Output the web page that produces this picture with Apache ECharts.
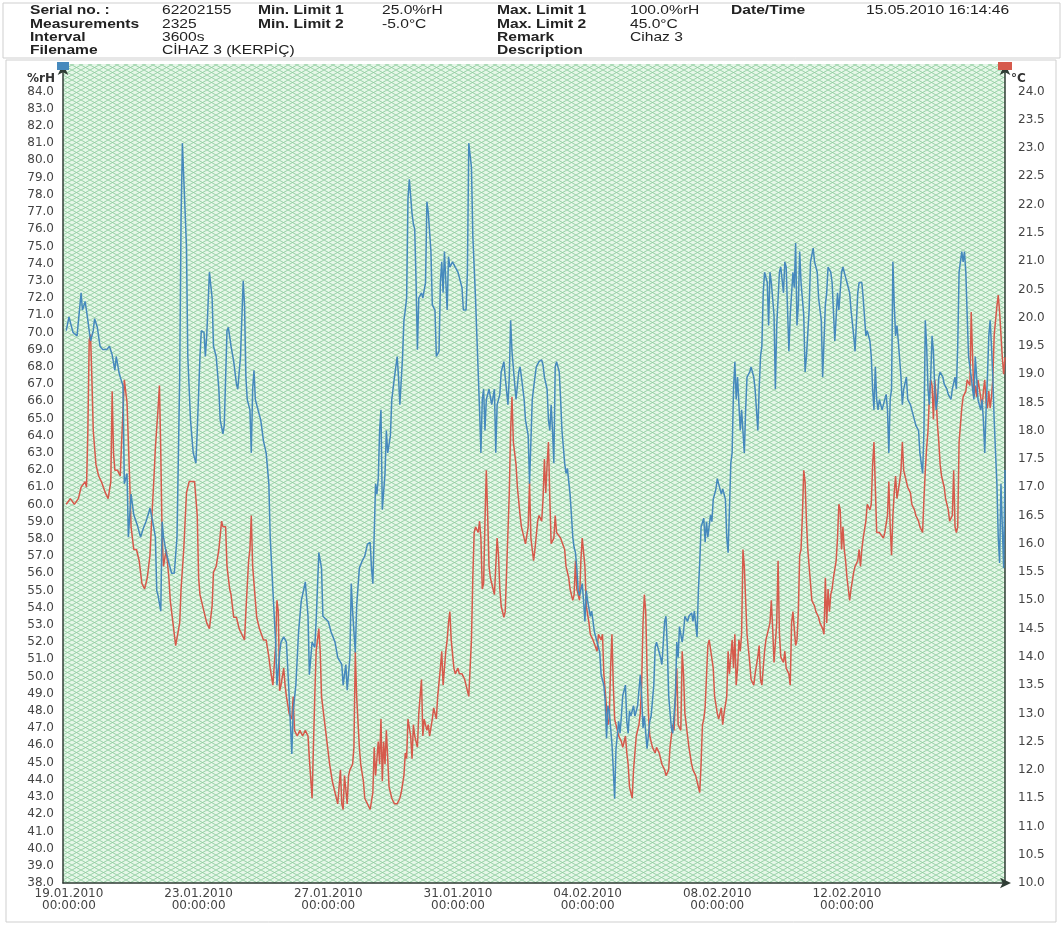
<!DOCTYPE html>
<html>
<head>
<meta charset="utf-8">
<script src="https://cdn.jsdelivr.net/npm/echarts@6/dist/echarts.min.js"></script>
<style>
html,body{margin:0;padding:0;background:#fff;}
#chart{width:1063px;height:925px;}
</style>
</head>
<body>
<div id="chart"></div>
<script>
// ---- header table text ----
const headerRows = [
  ['Serial no. :', '62202155', 'Min. Limit 1', '25.0%rH', 'Max. Limit 1', '100.0%rH', 'Date/Time', '15.05.2010 16:14:46'],
  ['Measurements', '2325', 'Min. Limit 2', '-5.0°C', 'Max. Limit 2', '45.0°C', '', ''],
  ['Interval', '3600s', '', '', 'Remark', 'Cihaz 3', '', ''],
  ['Filename', 'CİHAZ 3 (KERPİÇ)', '', '', 'Description', '', '', '']
];

// ---- time axis: hours after 19.01.2010 00:00:00 ----
const startDateUTC = Date.UTC(2010, 0, 19, 0, 0, 0);
const dateTickHours = [0, 96, 192, 288, 384, 480, 576];
const timeMin = -4.4;
const timeMax = 693;

// ---- humidity (%rH) : [hour, value] ----
const humidityData = [
[-2,70.1],[0,70.9],[3,70.0],[6,69.8],[9,72.3],[10,71.3],[12,71.8],[14,70.7],[16,69.5],[18,70.1],[19,70.8],[21,70.3],[23,69.2],[25,69.0],[28,69.0],[30,69.2],[32,68.7],[34,67.8],[35,68.6],[37,67.7],[38,67.4],[40,66.9],[41,61.2],[43,61.8],[44,58.1],[46,60.6],[48,59.4],[51,58.7],[53,58.1],[55,58.6],[57,59.0],[59,59.5],[60,59.8],[62,59.0],[64,58.1],[65,55.0],[66,54.7],[68,53.8],[69,59.0],[70,58.1],[72,57.2],[74,56.6],[76,56.0],[78,56.0],[80,58.1],[82,67.4],[83,76.6],[84,81.0],[85,80.9],[87,75.0],[88,68.6],[90,64.9],[92,63.0],[94,62.4],[95,64.3],[97,68.6],[98,70.1],[100,70.0],[101,68.6],[102,69.8],[104,73.5],[106,72.0],[107,69.2],[109,68.6],[111,66.7],[112,64.9],[114,64.1],[115,64.6],[117,70.1],[118,70.3],[120,69.2],[122,68.3],[124,67.0],[125,66.7],[127,68.6],[129,73.0],[130,71.6],[131,67.4],[132,66.1],[134,65.5],[135,63.0],[136,66.7],[137,67.8],[138,66.1],[140,65.5],[142,64.9],[144,63.7],[146,63.0],[148,61.2],[149,58.1],[151,55.0],[153,52.0],[154,49.5],[156,51.4],[157,52.0],[159,52.3],[161,52.0],[163,48.9],[165,45.5],[166,48.0],[168,49.5],
[170,52.6],[172,54.4],[175,55.5],[177,53.5],[178,50.1],[180,52.0],[182,51.7],[183,53.2],[185,57.2],[187,56.3],[188,53.5],[189,53.4],[192,53.2],[194,52.6],[197,52.0],[199,51.1],[202,50.7],[203,49.5],[205,50.7],[206,49.2],[208,51.1],[209,55.4],[210,53.8],[212,51.4],[213,54.1],[215,56.3],[217,56.7],[219,57.0],[221,57.7],[223,57.8],[224,56.3],[225,55.4],[227,61.2],[228,60.6],[229,61.5],[230,64.3],[231,65.5],[232,59.7],[234,61.8],[235,64.3],[236,63.0],[238,64.0],[239,66.1],[241,67.4],[243,68.6],[244,67.4],[245,65.8],[247,68.6],[248,70.7],[249,71.3],[250,72.0],[251,77.8],[252,78.9],[254,76.9],[255,76.3],[256,76.0],[257,72.9],[258,69.0],[259,72.0],[261,72.3],[262,72.0],[264,72.9],[265,77.6],[266,77.0],[268,74.7],[269,71.6],[271,71.3],[272,68.6],[274,68.9],[275,72.9],[276,74.1],[277,72.3],[278,74.7],[280,71.3],[281,74.4],[282,73.8],[284,74.1],[286,73.8],[288,73.5],[291,72.6],[292,71.3],[294,71.3],[295,73.5],[296,81.0],[298,79.6],[299,75.6],[301,72.0],[302,69.8],[304,65.5],[305,63.0],[306,66.1],[307,66.7],[308,64.3],[309,66.1],[311,66.7],[312,66.6],[313,65.8],[315,66.7],[316,63.0],[317,65.8],[319,66.4],[320,67.7],[322,68.3],[323,67.4],[325,65.8],[326,67.4],[327,70.7],[328,68.9],[330,67.0],[331,66.1],[333,67.7],[334,68.0],[335,67.4],[337,66.1],[338,64.9],[340,64.0],[341,61.2],
[343,66.1],[345,67.4],[346,68.0],[348,68.3],[350,68.4],[351,68.1],[352,67.4],[354,66.7],[355,64.9],[356,64.3],[357,65.8],[358,64.3],[359,62.4],[360,68.0],[361,68.3],[363,67.7],[364,66.1],[365,64.3],[367,62.4],[368,61.8],[369,62.1],[371,60.6],[372,59.4],[373,58.1],[374,57.5],[375,57.2],[376,56.3],[377,55.0],[378,54.7],[380,55.4],[381,54.4],[382,53.2],[383,55.0],[384,54.4],[386,53.5],[387,53.8],[388,53.2],[389,52.6],[391,52.0],[393,51.4],[394,50.1],[396,49.5],[397,48.6],[398,46.4],[399,48.3],[400,48.0],[402,46.1],[403,44.6],[404,42.9],[405,45.8],[407,47.4],[408,46.7],[409,47.7],[410,48.9],[412,49.5],[413,47.4],[414,46.7],[415,48.0],[416,47.7],[418,48.3],[419,47.7],[420,48.0],[421,48.3],[423,50.1],[424,48.9],[425,47.0],[426,47.7],[428,45.8],[430,47.4],[431,47.7],[433,49.5],[434,51.7],[435,52.0],[437,51.4],[438,51.1],[439,50.7],[441,53.2],[442,53.5],[443,51.7],[444,48.9],[446,47.0],[447,46.7],[449,48.9],[450,52.0],[451,51.1],[452,52.9],[454,52.0],[455,52.6],[456,53.5],[458,53.2],[459,53.5],[461,53.7],[462,53.2],[463,53.8],[465,52.3],[466,55.0],[467,56.6],[468,58.7],[470,59.2],[471,57.8],[472,59.0],[473,58.1],[475,59.4],[476,59.0],[477,60.3],[479,60.9],[480,61.5],[481,61.2],[483,60.6],[484,60.9],[486,60.3],[487,58.1],[488,57.2],[489,59.7],[490,62.4],[491,63.0],[492,66.7],[493,68.3],[494,66.1],[495,67.4],[497,64.3],[498,65.5],[500,63.0],[501,65.5],[502,67.4],[504,67.7],[505,68.0],[507,67.4],[508,66.7],[510,64.3],[511,66.7],[512,68.6],[513,69.2],[514,72.3],[515,73.5],[517,72.9],[518,70.4],
[519,73.5],[520,72.9],[522,71.0],[523,66.7],[524,70.4],[526,73.5],[527,73.8],[529,72.3],[530,74.1],[531,73.8],[533,68.9],[534,71.0],[536,73.5],[537,72.6],[538,75.2],[539,70.4],[540,71.6],[541,74.7],[542,72.9],[544,71.0],[545,67.7],[546,68.6],[548,71.3],[549,74.1],[551,74.9],[552,74.1],[554,73.5],[555,72.0],[557,70.7],[558,67.4],[560,71.6],[561,72.3],[562,73.8],[564,73.5],[565,72.9],[566,72.9],[567,69.5],[569,72.3],[570,71.3],[572,73.5],[573,73.8],[575,73.2],[576,72.9],[578,72.3],[579,71.3],[581,69.8],[582,68.9],[584,72.3],[585,72.9],[587,72.9],[588,72.0],[590,69.8],[591,70.1],[593,69.5],[594,68.6],[595,66.7],[596,65.5],[597,68.0],[598,66.1],[599,65.5],[600,66.1],[602,65.5],[603,65.8],[605,66.4],[606,65.5],[607,63.0],[608,66.1],[609,66.7],[610,74.1],[611,71.6],[612,69.8],[613,70.4],[614,69.5],[616,67.4],[617,65.8],[618,66.7],[620,67.4],[621,66.1],[623,65.8],[624,65.5],[626,64.9],[627,64.6],[629,64.3],[630,63.0],[632,61.8],[633,64.3],[634,70.7],[635,69.2],[636,66.7],[637,65.8],[638,67.4],[639,69.8],[640,68.9],[641,66.7],[642,65.5],[643,66.1],[644,67.4],[645,67.7],[647,67.4],[648,67.0],[650,66.7],[651,66.4],[653,66.1],[654,66.7],[656,67.4],[657,66.7],[658,69.2],[659,73.5],[660,74.1],[661,74.7],[662,74.1],[663,74.7],[664,73.5],[665,71.0],[666,68.6],[668,67.4],[669,66.7],[670,66.1],[671,68.6],[672,67.4],[673,66.1],[675,65.5],[676,66.1],[677,64.9],[678,63.0],[679,65.5],[680,67.4],[681,69.8],[682,70.7],[683,69.2],[684,67.4],[685,64.9],[686,63.0],[687,61.2],[688,58.1],[689,56.6],[690,61.2],[691,58.7],[692,56.3],[693,62.0]
];

// ---- temperature (°C) : [hour, value] ----
const temperatureData = [
[-2,16.7],[1,16.8],[4,16.7],[7,16.8],[9,17.0],[12,17.1],[13,17.0],[14,18.0],[15,19.6],[16,19.7],[17,18.9],[18,18.0],[20,17.4],[22,17.2],[24,17.1],[27,16.9],[29,16.8],[31,17.1],[32,18.7],[33,17.6],[34,17.3],[36,17.3],[38,17.2],[39,17.8],[41,18.9],[42,18.9],[43,18.5],[45,17.1],[46,16.3],[48,15.9],[50,15.9],[52,15.7],[54,15.3],[56,15.2],[58,15.4],[60,15.8],[61,16.3],[63,17.2],[64,17.7],[66,18.4],[67,18.8],[68,17.6],[69,16.1],[70,15.6],[72,15.9],[74,15.4],[75,15.0],[77,14.6],[79,14.2],[80,14.2],[82,14.6],[83,15.2],[85,15.9],[87,16.9],[89,17.1],[91,17.1],[93,17.1],[95,16.5],[96,15.4],[97,15.1],[98,15.0],[100,14.8],[102,14.6],[104,14.5],[106,14.9],[107,15.5],[109,15.6],[111,15.9],[113,16.4],[114,16.3],[116,16.3],[117,15.6],[119,15.2],[120,15.1],[122,14.7],[124,14.7],[126,14.5],[128,14.4],[130,14.3],[131,14.8],[133,15.7],[134,15.9],[135,16.5],[136,15.6],[138,15.0],[139,14.7],[141,14.5],[144,14.3],[146,14.3],[148,14.0],[149,13.8],[151,13.5],[153,14.2],[154,15.0],[155,14.8],[156,13.4],[157,13.5],[159,13.8],[160,13.5],[161,13.3],[163,13.0],[165,12.9],[166,13.3],[167,12.7],[169,12.6],
[171,12.7],[173,12.6],[175,12.7],[177,12.6],[178,12.2],[180,11.5],[181,12.4],[182,13.3],[183,14.1],[185,14.5],[186,14.1],[187,13.3],[189,12.9],[191,12.5],[193,12.1],[195,11.8],[197,11.6],[199,11.4],[201,12.0],[202,11.4],[203,11.3],[204,11.9],[206,11.4],[207,11.9],[208,12.0],[210,12.1],[211,12.4],[212,14.1],[213,13.3],[215,12.4],[216,12.1],[218,11.8],[219,11.5],[221,11.4],[223,11.3],[225,11.6],[226,12.4],[227,11.9],[229,12.5],[230,12.1],[231,12.9],[232,11.8],[233,12.5],[234,12.1],[235,12.7],[237,11.7],[238,11.6],[239,11.5],[241,11.4],[243,11.4],[245,11.5],[246,11.6],[248,11.9],[249,12.3],[250,12.2],[251,12.9],[253,12.6],[254,12.2],[255,12.8],[256,12.6],[258,12.4],[259,13.0],[261,13.6],[262,12.6],[263,12.9],[265,12.7],[266,12.8],[267,12.6],[269,12.9],[270,13.1],[272,12.9],[273,13.3],[275,13.8],[276,14.1],[277,13.5],[279,14.1],[280,14.3],[281,14.6],[282,14.8],[283,14.3],[285,13.8],[286,13.7],[288,13.8],[289,13.7],[291,13.7],[293,13.6],[294,13.5],[296,13.3],[298,14.3],[299,15.4],[300,16.2],[301,16.3],[303,16.2],[304,16.4],[305,16.1],[306,15.2],[307,15.3],[308,16.4],[309,17.3],[310,16.5],[311,15.6],[312,15.4],[314,15.2],[315,15.1],[317,16.1],[318,15.8],[319,15.2],[320,14.9],[322,14.7],[323,14.8],[324,15.5],[326,16.9],[327,18.0],[328,18.6],[329,17.8],[331,17.4],[332,17.0],[334,16.5],[335,16.3],[337,16.1],[338,16.0],[340,16.3],[341,17.1],[342,16.1],
[344,15.7],[345,15.9],[347,16.4],[348,16.5],[350,16.4],[351,16.8],[352,17.5],[353,16.9],[354,17.4],[355,17.8],[356,16.8],[357,16.0],[359,16.1],[360,16.5],[361,16.2],[362,16.2],[364,16.1],[365,16.1],[367,15.9],[368,15.6],[370,15.4],[371,15.2],[373,15.0],[374,15.1],[375,15.7],[376,15.2],[378,15.0],[379,15.7],[380,16.1],[381,16.1],[382,15.6],[383,14.9],[385,14.6],[386,14.4],[388,14.3],[389,14.3],[391,14.1],[392,14.4],[394,14.3],[395,14.4],[396,13.7],[398,13.1],[399,12.8],[400,12.9],[401,13.8],[402,14.4],[403,13.5],[404,12.9],[406,12.7],[407,12.6],[409,12.5],[410,12.4],[412,12.6],[413,12.3],[414,12.1],[415,11.7],[416,11.6],[417,11.5],[418,12.0],[419,12.3],[420,12.6],[422,12.8],[423,13.0],[424,13.5],[425,14.6],[426,15.1],[427,14.8],[428,13.8],[429,13.0],[430,12.6],[431,12.5],[432,12.4],[434,12.3],[435,12.4],[437,12.3],[438,12.2],[439,12.1],[441,12.0],[442,11.9],[444,12.0],[445,12.4],[447,12.8],[448,12.7],[449,13.3],[450,13.8],[451,12.8],[453,12.7],[454,14.1],[455,13.7],[456,13.0],[458,12.6],[459,12.4],[461,12.1],[462,12.0],[464,11.9],[465,11.8],[467,11.6],[468,12.1],[469,12.8],[470,12.9],[471,13.1],[473,14.2],[474,14.3],[475,14.3],[477,13.8],[478,13.3],[480,13.0],[481,12.9],[483,13.1],[484,12.8],[485,13.0],[487,13.3],[488,14.1],[489,13.7],[491,14.3],[492,13.8],[493,14.4],[494,13.5],[495,13.8],[496,14.3],[497,14.1],[498,14.4],[499,15.9],[500,15.6],[501,15.0],[502,14.4],[504,13.9],[505,13.6],[507,13.5],[508,13.7],[510,14.0],[511,14.2],[512,13.6],[513,13.5],[515,14.1],[516,14.3],
[519,14.6],[520,15.0],[521,14.5],[522,13.9],[524,14.6],[525,15.7],[526,14.4],[527,14.0],[529,13.9],[530,14.1],[531,13.8],[533,13.7],[534,13.5],[535,14.6],[536,14.8],[538,14.2],[539,14.3],[540,14.8],[541,15.8],[542,15.9],[543,16.5],[544,17.3],[545,17.1],[546,16.4],[547,15.9],[549,15.3],[550,15.0],[552,14.9],[553,14.8],[555,14.7],[556,14.6],[558,14.5],[559,14.4],[560,15.4],[561,14.6],[562,15.2],[563,14.8],[564,15.1],[565,15.2],[566,15.4],[568,15.7],[569,16.1],[570,16.7],[571,16.6],[572,15.9],[573,16.3],[574,15.9],[575,15.7],[576,15.4],[577,15.2],[578,15.0],[579,15.2],[581,15.5],[582,15.6],[584,15.7],[585,15.9],[586,15.6],[587,15.9],[588,16.1],[590,16.4],[591,16.7],[593,16.6],[594,16.7],[595,17.4],[596,17.8],[597,17.0],[598,16.2],[600,16.2],[601,16.2],[603,16.1],[604,16.2],[606,16.5],[607,17.1],[608,16.3],[609,15.8],[610,16.5],[611,16.9],[612,17.2],[613,16.8],[615,17.1],[616,17.3],[617,17.8],[618,17.3],[620,17.1],[621,17.0],[623,16.9],[624,16.7],[626,16.6],[627,16.5],[629,16.4],[630,16.3],[632,16.2],[633,16.8],[634,17.3],[635,17.7],[636,18.0],[637,18.6],[638,18.9],[639,18.8],[640,18.2],[641,18.9],[642,18.6],[643,18.1],[644,17.8],[645,17.4],[646,17.2],[648,17.0],[649,16.8],[651,16.6],[652,16.4],[654,16.5],[655,17.3],[656,16.3],[657,16.2],[658,16.3],[659,17.8],[661,18.4],[662,18.6],[664,18.7],[665,18.9],[667,18.8],[668,20.1],[669,19.3],[670,18.6],[671,18.8],[672,18.6],[673,18.9],[675,18.6],[676,18.4],[677,18.7],[678,18.9],[679,18.5],[680,18.4],[681,18.7],[682,18.4],[683,18.6],[684,18.9],[685,19.7],[687,20.2],[688,20.4],[689,20.1],[690,19.7],[691,19.3],[692,19.0],[693,19.3]
];

// ---- y axis ranges ----
const rhMin = 38, rhTopLabel = 84, rhAxisMax = 85.6;
const tMin = 10, tTopLabel = 24;
const tAxisMax = tMin + (rhAxisMax - rhMin) * (24 - 10) / (84 - 38);

function pad(n){ return (n < 10 ? '0' : '') + n; }
function fmtDate(h){
  const d = new Date(startDateUTC + h * 3600000);
  return pad(d.getUTCDate()) + '.' + pad(d.getUTCMonth() + 1) + '.' + d.getUTCFullYear() +
    '\n' + pad(d.getUTCHours()) + ':' + pad(d.getUTCMinutes()) + ':' + pad(d.getUTCSeconds());
}

// hatch pattern for plot background
const pat = document.createElement('canvas');
pat.width = 9; pat.height = 5;
(function(){
  const c = pat.getContext('2d');
  c.fillStyle = '#e6f7e8';
  c.fillRect(0, 0, 9, 5);
  c.strokeStyle = '#8fcd9f';
  c.lineWidth = 0.9;
  c.beginPath();
  c.moveTo(0, 0); c.lineTo(9, 5);
  c.moveTo(0, 5); c.lineTo(9, 0);
  c.stroke();
})();

const FONT = '"Liberation Sans", Arial, sans-serif';
const AXFONT = '"DejaVu Sans", "Liberation Sans", sans-serif';
const colX = [30, 162, 258, 382, 497, 630, 731, 866];
const rowY = [10.5, 24, 37.5, 50.5];
const headerGraphics = [];
headerRows.forEach((row, r) => {
  row.forEach((txt, c) => {
    if (!txt) return;
    headerGraphics.push({
      type: 'text', x: colX[c], y: rowY[r], scaleX: 1.2, silent: true,
      style: { text: txt, fill: '#222', verticalAlign: 'middle', align: 'left',
        font: (c % 2 === 0 ? 'bold ' : '') + '13px ' + FONT }
    });
  });
});

const chart = echarts.init(document.getElementById('chart'), null, {renderer: 'canvas'});
chart.setOption({
  animation: false,
  backgroundColor: '#ffffff',
  grid: {
    left: 63, top: 64, width: 942, height: 819,
    show: true, borderWidth: 0,
    backgroundColor: { image: pat, repeat: 'repeat' }
  },
  xAxis: {
    type: 'value', min: timeMin, max: timeMax,
    splitLine: { show: false },
    axisTick: { show: false },
    axisLine: { show: true, onZero: false, lineStyle: { color: '#2f3d35', width: 1.5 },
      symbol: ['none', 'arrow'], symbolSize: [8, 11], symbolOffset: [0, 6] },
    axisLabel: {
      customValues: dateTickHours,
      formatter: v => fmtDate(v),
      color: '#444', fontSize: 12, lineHeight: 12, margin: 5, fontFamily: AXFONT
    }
  },
  yAxis: [
    {
      type: 'value', position: 'left', min: rhMin, max: rhAxisMax, interval: 1,
      name: '%rH', nameLocation: 'end', nameGap: -21,
      nameTextStyle: { align: 'right', color: '#333', fontWeight: 'bold', fontSize: 12, fontFamily: AXFONT, padding: [0, 8, 0, 0] },
      splitLine: { show: false }, axisTick: { show: false },
      axisLine: { show: true, onZero: false, lineStyle: { color: '#2f3d35', width: 1.5 },
        symbol: ['none', 'arrow'], symbolSize: [8, 11] },
      axisLabel: {
        showMaxLabel: false,
        formatter: v => (v > rhTopLabel + 0.01 ? '' : v.toFixed(1)),
        color: '#444', fontSize: 12, margin: 9, fontFamily: AXFONT
      }
    },
    {
      type: 'value', position: 'right', min: tMin, max: tAxisMax, interval: 0.5,
      name: '°C', nameLocation: 'end', nameGap: -21,
      nameTextStyle: { align: 'left', color: '#333', fontWeight: 'bold', fontSize: 12, fontFamily: AXFONT, padding: [0, 0, 0, 6] },
      splitLine: { show: false }, axisTick: { show: false },
      axisLine: { show: true, onZero: false, lineStyle: { color: '#2f3d35', width: 1.5 },
        symbol: ['none', 'arrow'], symbolSize: [8, 11] },
      axisLabel: {
        showMaxLabel: false,
        formatter: v => (v > tTopLabel + 0.01 ? '' : v.toFixed(1)),
        color: '#444', fontSize: 12, margin: 13, fontFamily: AXFONT
      }
    }
  ],
  series: [
    {
      name: 'Temperature', type: 'line', yAxisIndex: 1, data: temperatureData,
      showSymbol: false, symbol: 'none',
      lineStyle: { color: '#d65a4c', width: 1.5 }, itemStyle: { color: '#d65a4c' }, z: 3
    },
    {
      name: 'Humidity', type: 'line', yAxisIndex: 0, data: humidityData,
      showSymbol: false, symbol: 'none',
      lineStyle: { color: '#4689bd', width: 1.5 }, itemStyle: { color: '#4689bd' }, z: 4
    }
  ],
  graphic: [
    { type: 'rect', shape: { x: 3, y: 3, width: 1057, height: 55 }, silent: true,
      style: { fill: 'none', stroke: '#cfcfcf', lineWidth: 1 } },
    { type: 'rect', shape: { x: 6, y: 60, width: 1050, height: 862 }, silent: true,
      style: { fill: 'none', stroke: '#cfcfcf', lineWidth: 1 } },
    { type: 'rect', shape: { x: 57, y: 62, width: 12, height: 8 }, silent: true, z: 10,
      style: { fill: '#4689bd' } },
    { type: 'rect', shape: { x: 998, y: 62, width: 14, height: 8 }, silent: true, z: 10,
      style: { fill: '#d65a4c' } }
  ].concat(headerGraphics)
});
</script>
</body>
</html>
